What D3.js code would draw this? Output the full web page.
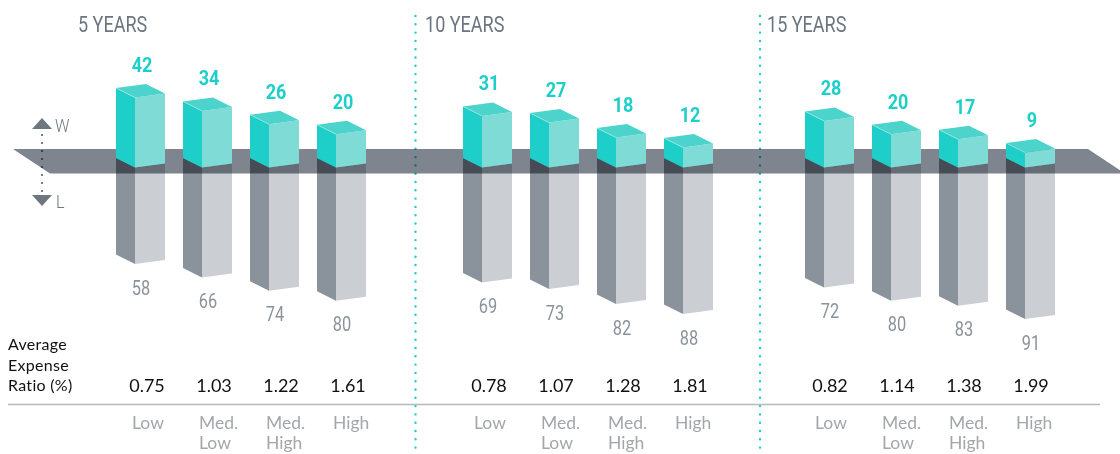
<!DOCTYPE html>
<html>
<head>
<meta charset="utf-8">
<script src="https://cdn.jsdelivr.net/npm/d3@7"></script>
<style>
  body { margin: 0; background: #fff; }
  svg { display: block; }
</style>
</head>
<body>
<script>
const width = 1120;
const height = 454;

// data
const periods = ['5 YEARS', '10 YEARS', '15 YEARS'];
const tiers = ['Low', 'Med. Low', 'Med. High', 'High'];
const tierLabels = [['Low'], ['Med.', 'Low'], ['Med.', 'High'], ['High']];
const winners = [[42, 34, 26, 20], [31, 27, 18, 12], [28, 20, 17, 9]];
const losers = [[58, 66, 74, 80], [69, 73, 82, 88], [72, 80, 83, 91]];
const expenseRatios = [['0.75', '1.03', '1.22', '1.61'], ['0.78', '1.07', '1.28', '1.81'], ['0.82', '1.14', '1.38', '1.99']];

// no condensed face available, so Roboto gets squeezed horizontally
const condensed = 'Roboto, sans-serif';
const plain = 'Lato, "Noto Sans", sans-serif';

const svg = d3.select('body').append('svg')
    .attr('width', width)
    .attr('height', height);

// scales
const groupX = d3.scaleOrdinal().domain(periods).range([116, 463, 805]);
const tableX = d3.scaleOrdinal().domain(periods).range([147, 489, 830]);
const tierX = d3.scaleBand().domain(tiers).range([0, 268]);
const h = d3.scaleLinear().domain([0, 100]).range([0, 166.5]);

const base = 158;      // left corner of the plane where bars meet
const dxL = 19, dyL = 9.5;   // left face of box
const dxR = 30, dyR = -4;    // right face of box
const boxW = dxL + dxR;

const bars = [];
periods.forEach((p, i) => {
    tiers.forEach((t, j) => {
        bars.push({ period: p, tier: t, win: winners[i][j], loss: losers[i][j], x: groupX(p) + tierX(t) });
    });
});

const poly = pts => 'M' + pts.map(d => d.join(',')).join('L') + 'Z';
const squeeze = (x, y, s) => `translate(${x},${y}) scale(${s},1)`;

// dotted dividers between periods
periods.slice(1).forEach((p, i) => {
    const prevEnd = groupX(periods[i]) + tierX(tiers[3]) + boxW;
    const x = (prevEnd + groupX(p)) / 2 + 1;
    svg.append('line')
        .attr('x1', x).attr('x2', x)
        .attr('y1', 16).attr('y2', 454)
        .attr('stroke', '#22cbc4')
        .attr('stroke-width', 2.4)
        .attr('stroke-linecap', 'round')
        .attr('stroke-dasharray', '0 8.3');
});

// W / L indicator
svg.append('line')
    .attr('x1', 42).attr('x2', 42)
    .attr('y1', 135).attr('y2', 192)
    .attr('stroke', '#5a616b')
    .attr('stroke-width', 2.2)
    .attr('stroke-linecap', 'round')
    .attr('stroke-dasharray', '0 8');
svg.append('path').attr('d', poly([[32, 129], [52, 129], [42, 118]])).attr('fill', '#6e7680');
svg.append('path').attr('d', poly([[32, 195], [52, 195], [42, 206]])).attr('fill', '#6e7680');
svg.append('text').attr('transform', squeeze(55, 132, 0.85)).text('W')
    .attr('font-family', condensed).attr('font-weight', 300).attr('font-size', 19).attr('fill', '#6e7680');
svg.append('text').attr('transform', squeeze(56, 208, 0.85)).text('L')
    .attr('font-family', condensed).attr('font-weight', 300).attr('font-size', 19).attr('fill', '#6e7680');

// loss boxes (below the plane)
const lossG = svg.append('g');
lossG.selectAll('path.lf')
    .data(bars).enter().append('path')
    .attr('d', d => {
        const b = base + h(d.loss);
        return poly([[d.x, base], [d.x + dxL, base + dyL], [d.x + dxL, b + dyL], [d.x, b]]);
    })
    .attr('fill', '#8a929b');
lossG.selectAll('path.rf')
    .data(bars).enter().append('path')
    .attr('d', d => {
        const b = base + h(d.loss);
        return poly([[d.x + dxL, base + dyL], [d.x + boxW, base + dyL + dyR], [d.x + boxW, b + dyL + dyR], [d.x + dxL, b + dyL]]);
    })
    .attr('fill', '#cbcfd4');

// the plane
svg.append('path')
    .attr('d', poly([[13, 149], [1088, 149], [1125, 173.5], [50, 173.5]]))
    .attr('fill', '#7f858e')
    .style('mix-blend-mode', 'multiply');

// win boxes (above the plane)
const winG = svg.append('g');
winG.selectAll('path.lf')
    .data(bars).enter().append('path')
    .attr('d', d => {
        const t = base - h(d.win);
        return poly([[d.x, t], [d.x + dxL, t + dyL], [d.x + dxL, base + dyL], [d.x, base]]);
    })
    .attr('fill', '#1dcfc8');
winG.selectAll('path.rf')
    .data(bars).enter().append('path')
    .attr('d', d => {
        const t = base - h(d.win);
        return poly([[d.x + dxL, t + dyL], [d.x + boxW, t + dyL + dyR], [d.x + boxW, base + dyL + dyR], [d.x + dxL, base + dyL]]);
    })
    .attr('fill', '#7fdbd6');
winG.selectAll('path.tf')
    .data(bars).enter().append('path')
    .attr('d', d => {
        const t = base - h(d.win);
        return poly([[d.x, t], [d.x + dxL, t + dyL], [d.x + boxW, t + dyL + dyR], [d.x + dxR, t + dyR]]);
    })
    .attr('fill', '#4bd3cc');
winG.selectAll('line.hl')
    .data(bars).enter().append('line')
    .attr('x1', d => d.x).attr('y1', d => base - h(d.win))
    .attr('x2', d => d.x + dxL).attr('y2', d => base - h(d.win) + dyL)
    .attr('stroke', '#9be6e1').attr('stroke-width', 0.8);

// value labels
svg.selectAll('text.win')
    .data(bars).enter().append('text')
    .attr('transform', d => squeeze(d.x + 26, base - h(d.win) - 16, 0.9))
    .attr('text-anchor', 'middle')
    .attr('font-family', condensed)
    .attr('font-weight', 'bold')
    .attr('font-size', 20)
    .attr('fill', '#1dcfc8')
    .text(d => d.win);

svg.selectAll('text.loss')
    .data(bars).enter().append('text')
    .attr('transform', d => squeeze(d.x + 25, base + h(d.loss) + 40, 0.78))
    .attr('text-anchor', 'middle')
    .attr('font-family', condensed)
    .attr('font-size', 21)
    .attr('fill', '#8a929b')
    .text(d => d.loss);

// period headers
svg.selectAll('text.period')
    .data(periods).enter().append('text')
    .attr('transform', d => squeeze(groupX(d) - 38, 32, 0.82))
    .attr('font-family', condensed)
    .attr('font-size', 22)
    .attr('fill', '#6b7580')
    .text(d => d);

// expense ratio table
['Average', 'Expense', 'Ratio (%)'].forEach((s, k) => {
    svg.append('text')
        .attr('x', 8).attr('y', 350 + k * 20.7)
        .attr('font-family', plain).attr('font-size', 16).attr('letter-spacing', 0.3).attr('fill', '#111')
        .text(s);
});

periods.forEach((p, i) => {
    tiers.forEach((t, j) => {
        const cx = tableX(p) + tierX(t);
        svg.append('text')
            .attr('x', cx).attr('y', 392)
            .attr('text-anchor', 'middle')
            .attr('font-family', plain).attr('font-size', 18).attr('fill', '#111')
            .text(expenseRatios[i][j]);
        tierLabels[j].forEach((line, k) => {
            svg.append('text')
                .attr('x', cx - 15).attr('y', 429 + k * 19.5)
                .attr('font-family', plain).attr('font-size', 17.5).attr('fill', '#a3a7ab')
                .text(line);
        });
    });
});

svg.append('line')
    .attr('x1', 8).attr('x2', 1100)
    .attr('y1', 404.5).attr('y2', 404.5)
    .attr('stroke', '#b5b8bc')
    .attr('stroke-width', 1.5);
</script>
</body>
</html>
